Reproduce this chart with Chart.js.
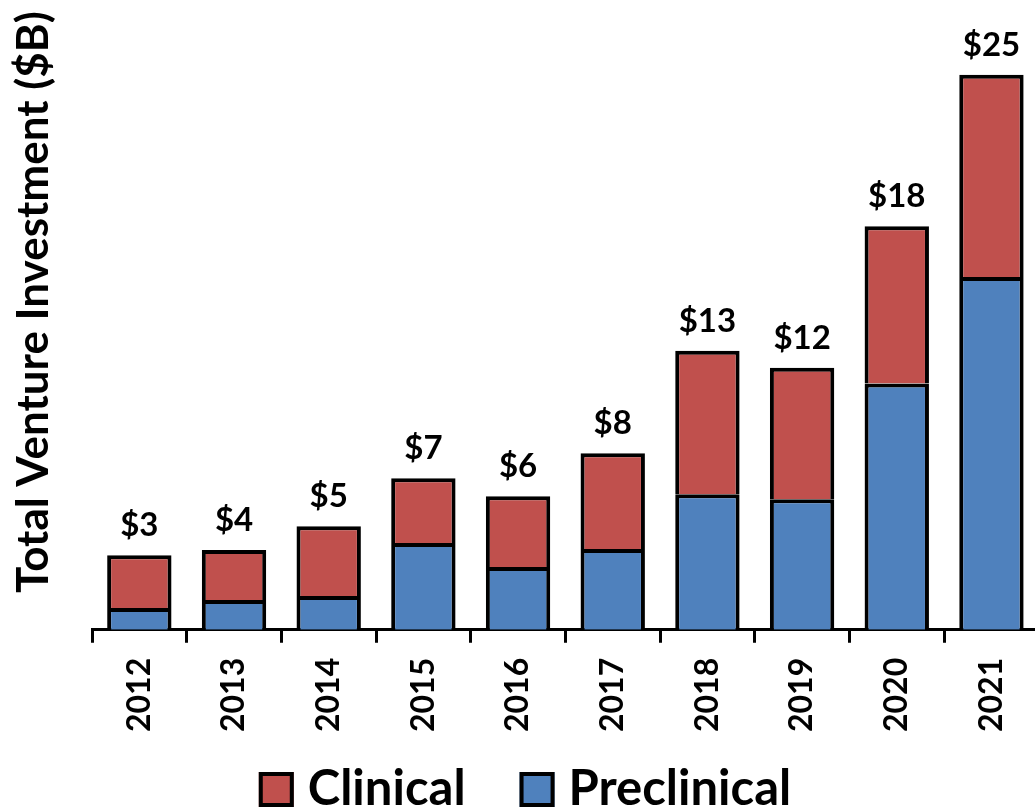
<!DOCTYPE html>
<html>
<head>
<meta charset="utf-8">
<script src="https://cdn.jsdelivr.net/npm/chart.js@4.4.1/dist/chart.umd.min.js"></script>
<style>
  html, body { margin: 0; padding: 0; background: #ffffff; overflow: hidden; }
  #wrap { width: 1045px; height: 810px; }
</style>
</head>
<body>
<div id="wrap"><canvas id="c" width="1045" height="810"></canvas></div>
<script>
const years = ['2012','2013','2014','2015','2016','2017','2018','2019','2020','2021'];
const preclinical = [0.98, 1.34, 1.52, 3.89, 2.82, 3.62, 6.08, 5.86, 11.05, 15.83];
const clinical    = [2.37, 2.24, 3.13, 2.91, 3.17, 4.30, 6.44, 5.90, 7.06, 9.08];
const totalLabels = ['$3','$4','$5','$7','$6','$8','$13','$12','$18','$25'];
const yTitle = 'Total Venture Investment ($B)';
const legendOrder = ['Clinical', 'Preclinical'];

const FONT = 'Lato, "Open Sans", sans-serif';
const RED = '#C0504D';
const BLUE = '#4F81BD';

const decorPlugin = {
  id: 'decor',
  afterDatasetsDraw(chart) {
    const ctx = chart.ctx;
    const meta = chart.getDatasetMeta(1);
    ctx.save();
    ctx.font = 'bold 33px ' + FONT;
    ctx.fillStyle = '#000';
    ctx.textAlign = 'center';
    ctx.textBaseline = 'alphabetic';
    meta.data.forEach((bar, i) => {
      ctx.fillText(totalLabels[i], bar.x, bar.y - 19);
    });
    ctx.restore();
  },
  afterDraw(chart) {
    const ctx = chart.ctx;
    // Y-axis title
    ctx.save();
    ctx.font = 'bold 44px ' + FONT;
    ctx.fillStyle = '#000';
    ctx.textAlign = 'center';
    ctx.textBaseline = 'alphabetic';
    ctx.translate(48, 302);
    ctx.rotate(-Math.PI / 2);
    ctx.fillText(yTitle, 0, 0);
    ctx.restore();

    // Legend
    const items = legendOrder.map(name => {
      const ds = chart.data.datasets.find(d => d.label === name);
      return { text: name, color: ds.backgroundColor };
    });
    ctx.save();
    ctx.font = 'bold 49px ' + FONT;
    const box = 35, gap = 14, spacing = 54;
    const widths = items.map(it => ctx.measureText(it.text).width);
    let total = 0;
    items.forEach((it, i) => { total += box + gap + widths[i]; if (i) total += spacing; });
    let x = 525 - total / 2;
    const boxTop = 772;
    items.forEach((it, i) => {
      ctx.fillStyle = it.color;
      ctx.fillRect(x, boxTop, box, box);
      ctx.lineWidth = 4;
      ctx.strokeStyle = '#000';
      ctx.strokeRect(x + 2, boxTop + 2, box - 4, box - 4);
      ctx.fillStyle = '#000';
      ctx.textAlign = 'left';
      ctx.textBaseline = 'alphabetic';
      ctx.fillText(it.text, x + box + gap, 805);
      x += box + gap + widths[i] + spacing;
    });
    ctx.restore();
  }
};

new Chart(document.getElementById('c'), {
  type: 'bar',
  data: {
    labels: years,
    datasets: [
      {
        label: 'Preclinical',
        data: preclinical,
        backgroundColor: BLUE,
        borderColor: '#000',
        borderWidth: {top: 4, left: 4, right: 4, bottom: 0},
        borderSkipped: false,
        barPercentage: 0.68,
        categoryPercentage: 1.0
      },
      {
        label: 'Clinical',
        data: clinical,
        backgroundColor: RED,
        borderColor: '#000',
        borderWidth: {top: 4, left: 4, right: 4, bottom: 0},
        borderSkipped: false,
        barPercentage: 0.68,
        categoryPercentage: 1.0
      }
    ]
  },
  options: {
    responsive: false,
    animation: false,
    devicePixelRatio: 1,
    layout: { padding: { top: 6, right: 3, left: 0, bottom: 63 } },
    plugins: {
      tooltip: { enabled: false },
      legend: { display: false }
    },
    scales: {
      x: {
        stacked: true,
        grid: {
          display: true,
          drawOnChartArea: false,
          drawTicks: true,
          tickLength: 13,
          tickWidth: 3,
          tickColor: '#000',
          offset: true
        },
        border: { display: true, color: '#000', width: 3 },
        ticks: {
          minRotation: 90,
          maxRotation: 90,
          padding: 15,
          color: '#000',
          font: { family: FONT, size: 32, weight: 'bold' }
        }
      },
      y: {
        stacked: true,
        min: 0,
        max: 28,
        grid: { display: false, drawTicks: false },
        border: { display: false },
        ticks: { display: false },
        afterFit(scale) { scale.width = 92; }
      }
    }
  },
  plugins: [decorPlugin]
});
</script>
</body>
</html>
